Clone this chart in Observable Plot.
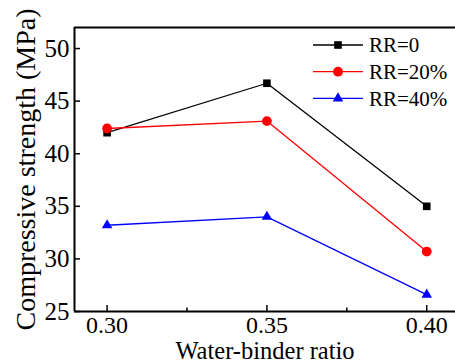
<!DOCTYPE html>
<html>
<head>
<meta charset="utf-8">
<script src="https://cdn.jsdelivr.net/npm/d3@7"></script>
<script src="https://cdn.jsdelivr.net/npm/@observablehq/plot@0.6"></script>
<style>
  html, body { margin: 0; padding: 0; background: #ffffff; overflow: hidden; }
  #chart svg { display: block; }
  #chart svg text { font-family: 'Liberation Serif', 'Times New Roman', serif; }
</style>
</head>
<body>
<div id="chart"></div>
<script>
// ---- data ----
const ratios = [0.30, 0.35, 0.40];
const rr0 = [42.0, 46.7, 35.0];
const rr20 = [42.4, 43.1, 30.7];
const rr40 = [33.2, 34.0, 26.6];
const seriesNames = ["RR=0", "RR=20%", "RR=40%"];
const seriesColors = ["#000000", "#ff0000", "#0000ff"];
const seriesSymbols = ["square", "circle", "triangle"];
const yTicks = [25, 30, 35, 40, 45, 50];
const xTicks = [0.30, 0.35, 0.40];
const xMinorTicks = [0.325, 0.375];
const xLabel = "Water-binder ratio";
const yLabel = "Compressive strength (MPa)";

const xDomain = [0.2898, 0.409];
const yDomain = [25, 52];

const seriesValues = [rr0, rr20, rr40];
const rows = [];
seriesValues.forEach((vals, si) => {
  vals.forEach((v, i) => rows.push({series: seriesNames[si], x: ratios[i], y: v}));
});

const W = 455, H = 363;
const mL = 74, mT = 27, mB = 52, mR = 0;
const pxX = (xDomain[1] - xDomain[0]) / (W - mL - mR);
const pxY = (yDomain[1] - yDomain[0]) / (H - mT - mB);

const font = "'Liberation Serif', 'Times New Roman', serif";
const symR = s => s === "square" ? 4.3 : s === "circle" ? 4.9 : 3.9;
const marks = [];
// series lines & dots
seriesNames.forEach((name, si) => {
  const d = rows.filter(r => r.series === name);
  marks.push(Plot.line(d, {x: "x", y: "y", stroke: seriesColors[si], strokeWidth: 1.3}));
});
seriesNames.forEach((name, si) => {
  const d = rows.filter(r => r.series === name);
  marks.push(Plot.dot(d, {x: "x", y: "y", symbol: () => seriesSymbols[si], fill: seriesColors[si], stroke: "none", r: symR(seriesSymbols[si])}));
});
// frame (left, top, bottom)
marks.push(Plot.ruleX([xDomain[0]], {stroke: "#000", strokeWidth: 2}));
marks.push(Plot.ruleY([yDomain[0], yDomain[1]], {stroke: "#000", strokeWidth: 2}));
// inward ticks
marks.push(Plot.ruleY(yTicks, {y: d => d, x1: xDomain[0], x2: xDomain[0] + 6 * pxX, stroke: "#000", strokeWidth: 1.5}));
marks.push(Plot.ruleX(xTicks, {x: d => d, y1: yDomain[0], y2: yDomain[0] + 6 * pxY, stroke: "#000", strokeWidth: 1.5}));
marks.push(Plot.ruleX(xMinorTicks, {x: d => d, y1: yDomain[0], y2: yDomain[0] + 3.5 * pxY, stroke: "#000", strokeWidth: 1.5}));
// axes labels
marks.push(Plot.axisY(yTicks, {anchor: "left", tickSize: 0, tickPadding: 5, fontSize: 25, fontFamily: font, label: null, tickFormat: d => String(d), fill: "#000"}));
marks.push(Plot.axisX(xTicks, {anchor: "bottom", tickSize: 0, tickPadding: 4, fontSize: 24, fontFamily: font, label: null, tickFormat: d => d.toFixed(2), fill: "#000"}));
marks.push(Plot.text([yLabel], {frameAnchor: "left", rotate: -90, dx: -48, fontSize: 28, fontFamily: font, textAnchor: "middle", lineAnchor: "middle", fill: "#000"}));
marks.push(Plot.text([xLabel], {frameAnchor: "bottom", dy: 39.5, fontSize: 24.5, fontFamily: font, textAnchor: "middle", lineAnchor: "middle", fill: "#000"}));

const chart = Plot.plot({
  width: W, height: H,
  marginLeft: mL, marginRight: mR, marginTop: mT, marginBottom: mB,
  x: {domain: xDomain, axis: null},
  y: {domain: yDomain, axis: null},
  style: {fontFamily: font, background: "#ffffff", color: "#000", overflow: "visible"},
  marks
});
document.getElementById("chart").appendChild(chart);

// legend
const svg = d3.select(chart);
const leg = svg.append("g").attr("font-family", font).attr("font-size", 21).attr("text-anchor", "start");
const legX0 = 313, legX1 = 363, legTextX = 369, legY0 = 45, legDy = 26.7;
seriesNames.forEach((name, i) => {
  const y = legY0 + i * legDy;
  const g = leg.append("g");
  g.append("line").attr("x1", legX0).attr("x2", legX1).attr("y1", y).attr("y2", y)
    .attr("stroke", seriesColors[i]).attr("stroke-width", 1.3);
  const r = symR(seriesSymbols[i]);
  const sym = seriesSymbols[i] === "square" ? d3.symbolSquare : seriesSymbols[i] === "circle" ? d3.symbolCircle : d3.symbolTriangle;
  g.append("path").attr("d", d3.symbol(sym, Math.PI * r * r)())
    .attr("transform", `translate(${(legX0 + legX1) / 2},${y})`).attr("fill", seriesColors[i]);
  g.append("text").attr("x", legTextX).attr("y", y).attr("dy", "0.35em").attr("fill", "#000").attr("text-anchor", "start").text(name);
});
</script>
</body>
</html>
